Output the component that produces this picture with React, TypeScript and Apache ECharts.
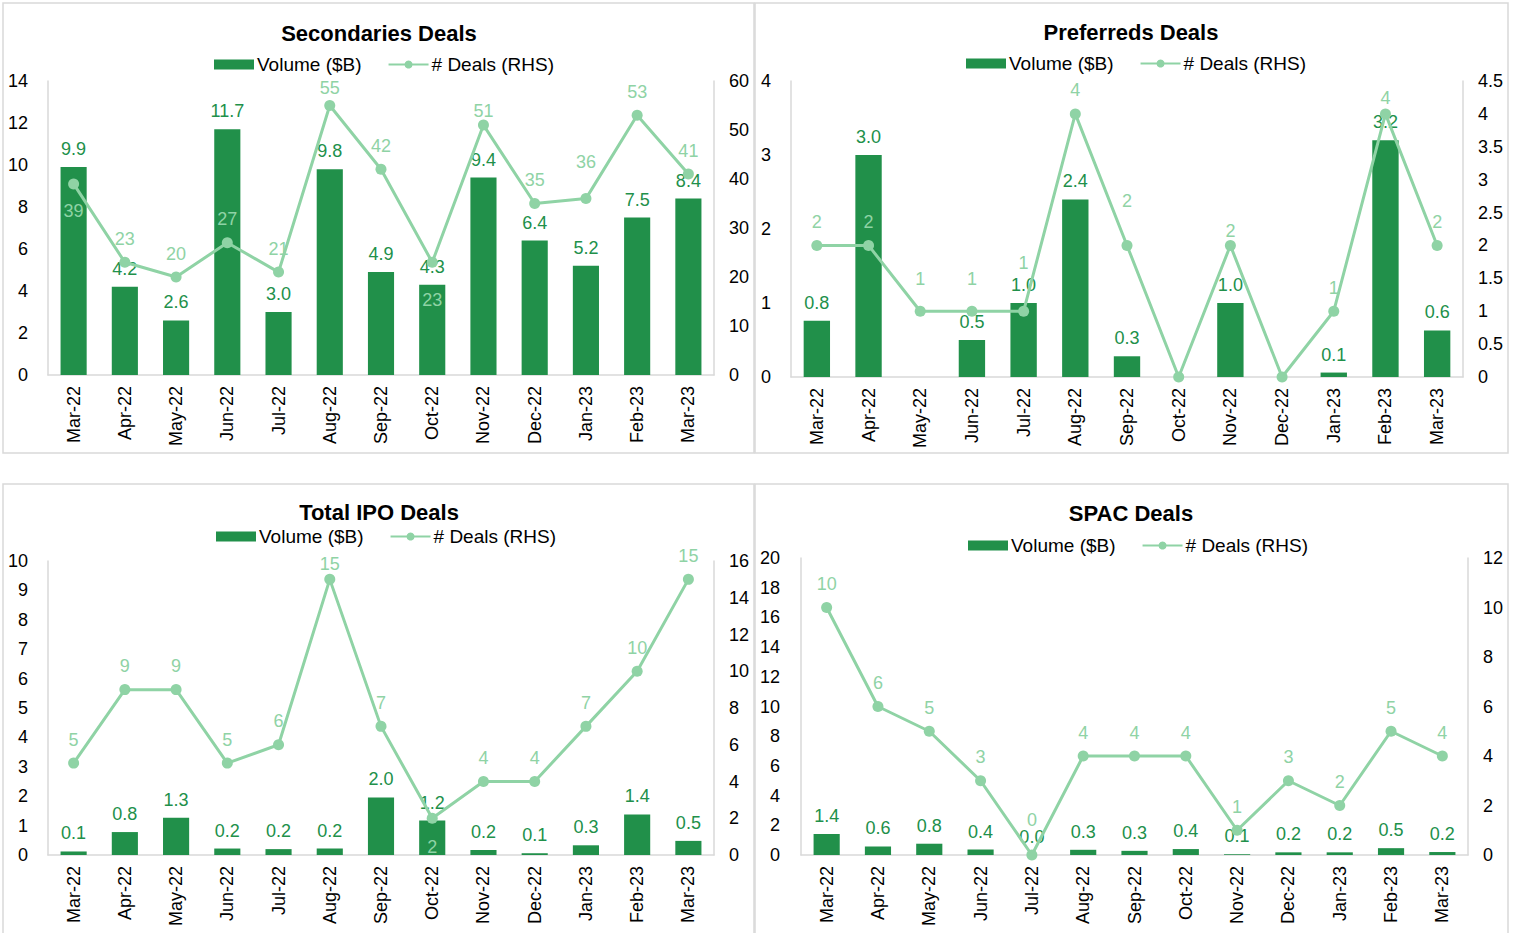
import React, { useEffect, useRef } from "react";
import * as echarts from "echarts";

const months = ["Mar-22", "Apr-22", "May-22", "Jun-22", "Jul-22", "Aug-22", "Sep-22", "Oct-22", "Nov-22", "Dec-22", "Jan-23", "Feb-23", "Mar-23"];

const secVolume = [9.9, 4.2, 2.6, 11.7, 3.0, 9.8, 4.9, 4.3, 9.4, 6.4, 5.2, 7.5, 8.4];
const secDeals = [39, 23, 20, 27, 21, 55, 42, 23, 51, 35, 36, 53, 41];

const prefVolume = [0.76, 3.0, null, 0.5, 1.0, 2.4, 0.28, null, 1.0, null, 0.06, 3.2, 0.63];
const prefDeals = [2, 2, 1, 1, 1, 4, 2, 0, 2, 0, 1, 4, 2];

const ipoVolume = [0.12, 0.78, 1.27, 0.22, 0.2, 0.22, 1.96, 1.17, 0.17, 0.06, 0.33, 1.38, 0.48];
const ipoDeals = [5, 9, 9, 5, 6, 15, 7, 2, 4, 4, 7, 10, 15];

const spacVolume = [1.41, 0.58, 0.76, 0.37, 0.0, 0.35, 0.28, 0.4, 0.05, 0.18, 0.18, 0.46, 0.2];
const spacDeals = [10, 6, 5, 3, 0, 4, 4, 4, 1, 3, 2, 5, 4];

// Label placement tweaks (index -> [position, distance]); "hide" removes label
type Nudge = Record<number, [string, number]>;
const secNudge: Nudge = { 0: ["bottom", 13], 5: ["top", 3], 7: ["bottom", 23], 8: ["top", 0], 10: ["top", 22] };
const prefNudge: Nudge = { 2: ["top", 18], 3: ["top", 18], 4: ["top", 34], 6: ["top", 30], 7: ["hide", 0], 8: ["top", 0], 9: ["hide", 0], 11: ["top", 1] };
const ipoNudge: Nudge = { 5: ["top", 1], 7: ["bottom", 14] };
const spacNudge: Nudge = { 4: ["top", 21] };

const BAR = "#21904a";
const LINE = "#8fd3a5";
const GRID_LINE = "#d9d9d9";
const FONT = "'Liberation Sans', Arial, sans-serif";

type Panel = {
  title: string;
  volume: (number | null)[];
  deals: number[];
  nudge: Nudge;
  leftMax: number;
  leftInt: number;
  rightMax: number;
  rightInt: number;
  grid: { left: number; top: number; width: number; height: number };
  titleX: number;
  titleTop: number;
  legendLeft: number;
  legendTop: number;
  box: { x: number; y: number; width: number; height: number };
};

const panels: Panel[] = [
  {
    title: "Secondaries Deals", volume: secVolume, deals: secDeals, nudge: secNudge,
    leftMax: 14, leftInt: 2, rightMax: 60, rightInt: 10,
    grid: { left: 48, top: 81, width: 666, height: 294 },
    titleX: 379, titleTop: 22, legendLeft: 214, legendTop: 55,
    box: { x: 3, y: 3, width: 751, height: 450 },
  },
  {
    title: "Preferreds Deals", volume: prefVolume, deals: prefDeals, nudge: prefNudge,
    leftMax: 4, leftInt: 1, rightMax: 4.5, rightInt: 0.5,
    grid: { left: 791, top: 81, width: 672, height: 296 },
    titleX: 1131, titleTop: 21, legendLeft: 966, legendTop: 54,
    box: { x: 755, y: 3, width: 753, height: 450 },
  },
  {
    title: "Total IPO Deals", volume: ipoVolume, deals: ipoDeals, nudge: ipoNudge,
    leftMax: 10, leftInt: 1, rightMax: 16, rightInt: 2,
    grid: { left: 48, top: 561, width: 666, height: 294 },
    titleX: 379, titleTop: 501, legendLeft: 216, legendTop: 527,
    box: { x: 3, y: 484, width: 751, height: 455 },
  },
  {
    title: "SPAC Deals", volume: spacVolume, deals: spacDeals, nudge: spacNudge,
    leftMax: 20, leftInt: 2, rightMax: 12, rightInt: 2,
    grid: { left: 801, top: 558, width: 667, height: 297 },
    titleX: 1131, titleTop: 502, legendLeft: 968, legendTop: 536,
    box: { x: 755, y: 484, width: 753, height: 455 },
  },
];

export default function App() {
  const ref = useRef<HTMLDivElement>(null);

  useEffect(() => {
    if (!ref.current) return;
    const chart = echarts.init(ref.current, undefined, { renderer: "svg" });

    const grids: any[] = [];
    const xAxes: any[] = [];
    const yAxes: any[] = [];
    const series: any[] = [];
    const titles: any[] = [];
    const legends: any[] = [];
    const graphics: any[] = [];

    panels.forEach((p, i) => {
      grids.push({ ...p.grid, containLabel: false });
      xAxes.push({
        type: "category",
        gridIndex: i,
        data: months,
        axisLine: { show: true, lineStyle: { color: GRID_LINE, width: 1.5 } },
        axisTick: { show: false },
        axisLabel: { rotate: 90, color: "#000", fontSize: 18, fontFamily: FONT, margin: 11, interval: 0 },
      });
      yAxes.push({
        type: "value",
        gridIndex: i,
        min: 0,
        max: p.leftMax,
        interval: p.leftInt,
        position: "left",
        axisLine: { show: true, lineStyle: { color: GRID_LINE, width: 1.5 } },
        axisTick: { show: false },
        splitLine: { show: false },
        axisLabel: { color: "#000", fontSize: 18, fontFamily: FONT, margin: i === 3 ? 21 : 20 },
      });
      yAxes.push({
        type: "value",
        gridIndex: i,
        min: 0,
        max: p.rightMax,
        interval: p.rightInt,
        position: "right",
        axisLine: { show: true, lineStyle: { color: GRID_LINE, width: 1.5 } },
        axisTick: { show: false },
        splitLine: { show: false },
        axisLabel: { color: "#000", fontSize: 18, fontFamily: FONT, margin: 15 },
      });
      series.push({
        type: "bar",
        name: "Volume ($B)",
        xAxisIndex: i,
        yAxisIndex: i * 2,
        data: p.volume,
        barWidth: "51%",
        itemStyle: { color: BAR },
        label: {
          show: true,
          position: "top",
          distance: 9,
          color: BAR,
          fontSize: 18,
          fontFamily: FONT,
          formatter: (d: any) => (d.value == null ? "" : Number(d.value).toFixed(1)),
        },
        z: 2,
      });
      series.push({
        type: "line",
        name: "# Deals (RHS)",
        xAxisIndex: i,
        yAxisIndex: i * 2 + 1,
        data: p.deals.map((v, k) => {
          const n = p.nudge[k];
          if (!n) return v;
          if (n[0] === "hide") return { value: v, label: { show: false } };
          return { value: v, label: { position: n[0], distance: n[1] } };
        }),
        symbol: "circle",
        symbolSize: 11,
        lineStyle: { color: LINE, width: 3 },
        itemStyle: { color: LINE },
        label: {
          show: true,
          position: "top",
          distance: 9,
          color: LINE,
          fontSize: 18,
          fontFamily: FONT,
        },
        z: 3,
      });
      titles.push({
        text: p.title,
        left: p.titleX,
        top: p.titleTop,
        textAlign: "center",
        padding: 0,
        textStyle: { fontSize: 22, fontWeight: "bold", color: "#000", fontFamily: FONT },
      });
      legends.push({
        left: p.legendLeft,
        top: p.legendTop,
        padding: 0,
        itemGap: 26,
        itemWidth: 40,
        itemHeight: 10,
        textStyle: { fontSize: 19, color: "#000", fontFamily: FONT, padding: [0, 0, 0, -2] },
        data: [
          { name: "Volume ($B)", icon: "rect" },
          { name: "# Deals (RHS)" },
        ],
        selectedMode: false,
      });
      graphics.push({
        type: "rect",
        shape: { ...p.box },
        style: { fill: "none", stroke: GRID_LINE, lineWidth: 1.5 },
        silent: true,
        z: -1,
      });
    });

    chart.setOption({
      animation: false,
      backgroundColor: "#fff",
      title: titles,
      legend: legends,
      grid: grids,
      xAxis: xAxes,
      yAxis: yAxes,
      series,
      graphic: graphics,
    });

    return () => chart.dispose();
  }, []);

  return (
    <div
      ref={ref}
      style={{ position: "absolute", left: 0, top: 0, width: 1515, height: 933 }}
    />
  );
}
